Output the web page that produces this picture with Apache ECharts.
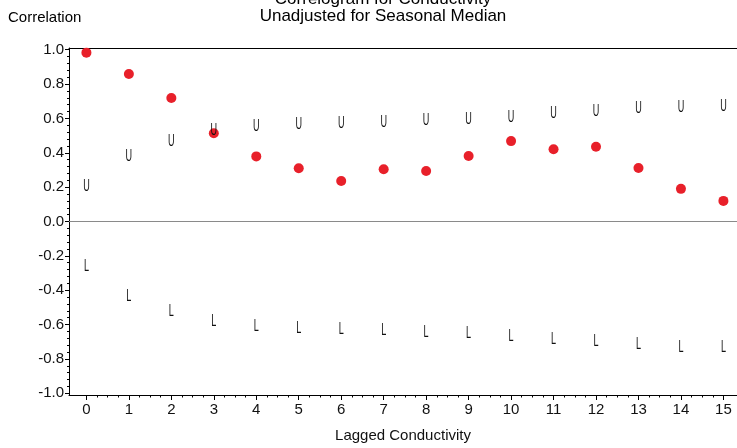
<!DOCTYPE html>
<html><head><meta charset="utf-8">
<script src="https://cdn.jsdelivr.net/npm/echarts@6/dist/echarts.min.js"></script>
<style>html,body{margin:0;padding:0;background:#fff}#c{width:737px;height:448px}</style>
</head><body><div id="c"></div>
<script>
// ---- data ----
const lags = [0, 1, 2, 3, 4, 5, 6, 7, 8, 9, 10, 11, 12, 13, 14, 15];
const correlation = [0.983, 0.859, 0.719, 0.514, 0.379, 0.310, 0.236, 0.304, 0.294, 0.381, 0.468, 0.421, 0.435, 0.311, 0.190, 0.120];
const upperBound = [0.217, 0.391, 0.477, 0.539, 0.563, 0.574, 0.582, 0.589, 0.597, 0.605, 0.618, 0.638, 0.651, 0.667, 0.676, 0.680];
const lowerBound = [-0.250, -0.424, -0.512, -0.568, -0.597, -0.612, -0.616, -0.624, -0.632, -0.638, -0.655, -0.674, -0.686, -0.703, -0.719, -0.719];
const yTickValues = [-1.0, -0.8, -0.6, -0.4, -0.2, 0.0, 0.2, 0.4, 0.6, 0.8, 1.0];
const titleLines = ['Correlogram for Conductivity', 'Unadjusted for Seasonal Median'];
const yTitle = 'Correlation';
const xTitle = 'Lagged Conductivity';
const upperMark = 'U';
const lowerMark = 'L';

// ---- minor tick positions ----
const xMinor = [];
lags.forEach(l => { if (l < 15) { [0.25, 0.5, 0.75].forEach(f => xMinor.push(l + f)); } });
const yMinor = [];
for (let i = 0; i < yTickValues.length - 1; i++) {
  for (let k = 1; k < 5; k++) yMinor.push(+(yTickValues[i] + k * 0.04).toFixed(2));
}

const FONT = '"Liberation Sans", Arial, sans-serif';
const X_MIN = -0.41, X_MAX = 15.32, Y_MIN = -1.01, Y_MAX = 1.01;

function glyph(ch) {
  return function (params, api) {
    const p = api.coord([api.value(0), api.value(1)]);
    return {
      type: 'text', x: p[0], y: p[1] + 2, scaleX: 0.55,
      style: { text: ch, fill: '#111', font: '16.5px ' + FONT,
        align: 'center', verticalAlign: 'middle', textAlign: 'center', textVerticalAlign: 'middle' }
    };
  };
}

const chart = echarts.init(document.getElementById('c'), null, { renderer: 'canvas' });
chart.setOption({
  animation: false,
  backgroundColor: '#fff',
  graphic: [
    { type: 'text', x: 383, y: -1, style: { text: titleLines[0], font: '17px ' + FONT, fill: '#000', align: 'center', verticalAlign: 'middle', textAlign: 'center', textVerticalAlign: 'middle' } },
    { type: 'text', x: 383, y: 16, style: { text: titleLines[1], font: '17px ' + FONT, fill: '#000', align: 'center', verticalAlign: 'middle', textAlign: 'center', textVerticalAlign: 'middle' } },
    { type: 'text', x: 8, y: 18, style: { text: yTitle, font: '15px ' + FONT, fill: '#000', align: 'left', verticalAlign: 'middle', textAlign: 'left', textVerticalAlign: 'middle' } }
  ],
  grid: { left: 69, right: 0, top: 48, bottom: 51 },
  xAxis: [
    {
      type: 'value', min: X_MIN, max: X_MAX, position: 'bottom',
      axisLine: { show: true, onZero: false, lineStyle: { color: '#000', width: 1 } },
      axisTick: { show: true, customValues: lags, length: 5, lineStyle: { color: '#000' } },
      axisLabel: { customValues: lags, margin: 7, color: '#111', fontSize: 15, fontFamily: FONT },
      splitLine: { show: false },
      name: xTitle, nameLocation: 'middle', nameGap: 33,
      nameTextStyle: { color: '#111', fontSize: 15, fontFamily: FONT }
    },
    {
      type: 'value', min: X_MIN, max: X_MAX, position: 'bottom',
      axisLine: { show: false, onZero: false },
      axisTick: { show: true, customValues: xMinor, length: 2.5, lineStyle: { color: '#000' } },
      axisLabel: { show: false }, splitLine: { show: false }
    },
    {
      type: 'value', min: X_MIN, max: X_MAX, position: 'top',
      axisLine: { show: true, onZero: false, lineStyle: { color: '#000', width: 1 } },
      axisTick: { show: false }, axisLabel: { show: false }, splitLine: { show: false }
    }
  ],
  yAxis: [
    {
      type: 'value', min: Y_MIN, max: Y_MAX, position: 'left',
      axisLine: { show: true, onZero: false, lineStyle: { color: '#000', width: 1 } },
      axisTick: { show: true, customValues: yTickValues, length: 4, lineStyle: { color: '#000' } },
      axisLabel: { customValues: yTickValues, margin: 5, color: '#111', fontSize: 15, fontFamily: FONT,
        formatter: v => v.toFixed(1) },
      splitLine: { show: false }
    },
    {
      type: 'value', min: Y_MIN, max: Y_MAX, position: 'left',
      axisLine: { show: false, onZero: false },
      axisTick: { show: true, customValues: yMinor, length: 2, lineStyle: { color: '#000' } },
      axisLabel: { show: false }, splitLine: { show: false }
    }
  ],
  series: [
    {
      type: 'scatter', xAxisIndex: 0, yAxisIndex: 0, z: 2,
      data: lags.map((l, i) => [l, correlation[i]]),
      symbol: 'circle', symbolSize: 10,
      itemStyle: { color: '#e8202a', opacity: 1 },
      markLine: {
        silent: true, symbol: ['none', 'none'], label: { show: false },
        lineStyle: { color: '#8a8a8a', width: 1, type: 'solid' },
        data: [{ yAxis: 0 }]
      }
    },
    {
      type: 'custom', xAxisIndex: 0, yAxisIndex: 0, z: 3,
      data: lags.map((l, i) => [l, upperBound[i]]),
      renderItem: glyph(upperMark)
    },
    {
      type: 'custom', xAxisIndex: 0, yAxisIndex: 0, z: 3,
      data: lags.map((l, i) => [l, lowerBound[i]]),
      renderItem: glyph(lowerMark)
    }
  ]
});
</script>
</body></html>
